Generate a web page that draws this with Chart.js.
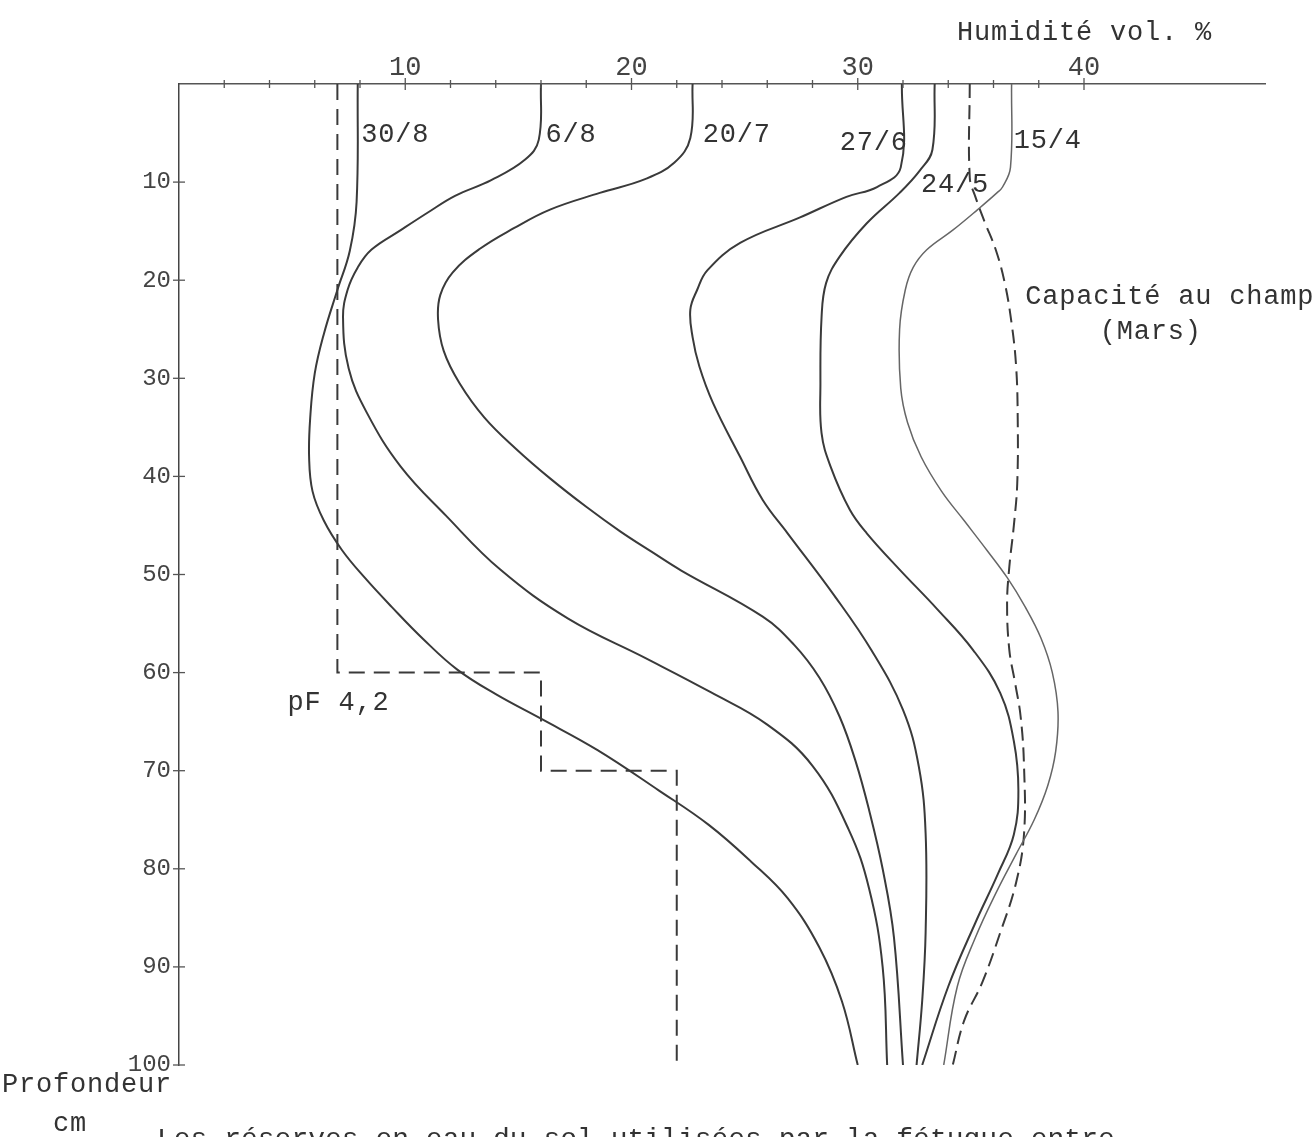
<!DOCTYPE html>
<html>
<head>
<meta charset="utf-8">
<script src="https://cdn.jsdelivr.net/npm/chart.js@4.4.1/dist/chart.umd.min.js"></script>
<style>
  html, body { margin: 0; padding: 0; background: #fff; }
</style>
</head>
<body>
<canvas id="profil" width="1313" height="1137"></canvas>
<script>
// humidité vol. % (x) en fonction de la profondeur en cm (y)
const depth_30_8 = [0, 12, 17, 21, 25.5, 29.5, 34, 38, 41.5, 44.5, 47.5, 50.3, 53.3, 56.6, 59.7, 62.2, 64.7, 67.9, 72, 75.5, 79.3, 83, 88, 93.5, 100];
const hum_30_8 = [7.9, 7.85, 7.55, 7.0, 6.4, 6.0, 5.8, 5.75, 5.9, 6.4, 7.2, 8.2, 9.4, 10.8, 12.3, 14.0, 16.0, 18.5, 21.2, 23.4, 25.3, 26.9, 28.3, 29.3, 30.0];

const depth_6_8 = [0, 5.7, 7.7, 9.8, 11.4, 13.1, 14.9, 16.9, 18.7, 21, 23.8, 29, 33.5, 39, 44, 49.5, 54.5, 58.5, 62, 65.3, 69.5, 76, 82, 90, 100];
const hum_6_8 = [16.0, 15.9, 15.3, 13.8, 12.2, 11.0, 9.8, 8.5, 7.9, 7.45, 7.25, 7.5, 8.3, 9.8, 11.8, 14.2, 17.2, 20.6, 23.5, 26.0, 28.0, 29.6, 30.5, 31.1, 31.3];

const depth_20_7 = [0, 5.5, 8, 9.7, 11.1, 12.8, 14.7, 16.8, 19.2, 21.5, 24, 27.2, 30.5, 34, 37.2, 40.2, 43.1, 45.6, 47.7, 49.6, 54.3, 57.2, 60.5, 64.5, 69, 74, 80, 87, 100];
const hum_20_7 = [22.7, 22.6, 21.9, 20.6, 18.6, 16.4, 14.8, 13.3, 12.1, 11.55, 11.45, 11.7, 12.4, 13.5, 14.9, 16.4, 18.0, 19.5, 20.9, 22.2, 25.8, 27.2, 28.3, 29.2, 29.9, 30.5, 31.1, 31.6, 32.0];

const depth_27_6 = [0, 8.5, 10.5, 11.5, 13.6, 16.2, 19, 21, 23, 25.8, 28.8, 32.5, 38, 42.4, 45.8, 52.1, 57.7, 63.8, 69.6, 76.4, 86.5, 93.4, 100];
const hum_27_6 = [31.95, 31.9, 30.85, 29.5, 27.45, 24.8, 23.35, 22.9, 22.6, 22.7, 23.0, 23.6, 24.8, 25.8, 26.9, 28.95, 30.6, 32.0, 32.7, 33.0, 33.0, 32.85, 32.6];

const depth_24_5 = [0, 6.7, 8.8, 11.1, 14.2, 17.6, 20.3, 23.8, 30.5, 35.6, 39, 43.4, 45.8, 49.5, 53.5, 57.7, 62.1, 67, 72, 76.5, 80.5, 85.5, 92, 100];
const hum_24_5 = [33.4, 33.3, 32.75, 31.85, 30.4, 29.2, 28.6, 28.4, 28.35, 28.4, 28.8, 29.65, 30.4, 31.85, 33.5, 35.1, 36.3, 36.9, 37.1, 36.9, 36.2, 35.2, 34.0, 32.85];

const depth_15_4 = [0, 8.5, 10.5, 11.1, 12.8, 14.9, 16.9, 18.7, 21, 25, 31, 34.5, 38, 41.5, 44.5, 47.5, 50.3, 53.3, 56.5, 60, 64, 68, 71.5, 75, 78.5, 82.5, 87, 92, 100];
const hum_15_4 = [36.8, 36.75, 36.4, 36.15, 35.3, 34.2, 33.05, 32.45, 32.1, 31.85, 31.9, 32.2, 32.8, 33.7, 34.7, 35.7, 36.6, 37.4, 38.1, 38.6, 38.85, 38.75, 38.4, 37.8, 37.0, 36.1, 35.2, 34.4, 33.8];

// capacité au champ (Mars)
const depth_cc = [0, 9.5, 11.5, 14, 16.9, 20.3, 24.4, 28.8, 34, 40.7, 45, 49.2, 53, 57.7, 61, 64.5, 69.6, 76.4, 81.4, 86.5, 91.6, 95.5, 100];
const hum_cc = [34.95, 34.95, 35.2, 35.6, 36.1, 36.5, 36.8, 37.0, 37.07, 37.05, 36.9, 36.7, 36.6, 36.7, 36.95, 37.2, 37.35, 37.35, 37.0, 36.3, 35.5, 34.7, 34.2];

// pF 4,2
const depth_pf = [0, 60, 60, 70, 70, 100];
const hum_pf = [7, 7, 16, 16, 22, 22];

const xTicksShown = [10, 20, 30, 40];

const ink = "#3a3a3a";
const mono = "'Liberation Mono', 'DejaVu Sans Mono', monospace";

function pts(h, d) {
    return h.map((v, i) => ({ x: v, y: d[i] }));
}

function curve(h, d, extra) {
    return Object.assign({
        data: pts(h, d),
        showLine: true,
        pointRadius: 0,
        borderColor: ink,
        borderWidth: 2,
        tension: 0.4,
        fill: false,
    }, extra || {});
}

// textes posés en coordonnées de données
const notes = [
    { t: "30/8", x: 8.05, y: 5.9 },
    { t: "6/8", x: 16.2, y: 5.9 },
    { t: "20/7", x: 23.15, y: 5.9 },
    { t: "27/6", x: 29.2, y: 6.7 },
    { t: "15/4", x: 36.9, y: 6.5 },
    { t: "24/5", x: 32.8, y: 11.0 },
    { t: "pF 4,2", x: 4.8, y: 63.8 },
    { t: "Capacité au champ", x: 37.4, y: 22.4 },
    { t: "(Mars)", x: 40.7, y: 26.0 },
];

const textPlugin = {
    id: "texts",
    afterDraw(chart) {
        const c = chart.ctx;
        const xs = chart.scales.x, ys = chart.scales.y;
        c.save();

        // marques en croix sur les deux axes
        c.strokeStyle = "#555";
        c.lineWidth = 1.3;
        ys.ticks.forEach(tk => {
            if (tk.value === 0) return;
            const py = ys.getPixelForValue(tk.value);
            c.beginPath();
            c.moveTo(ys.right - 6, py);
            c.lineTo(ys.right + 6, py);
            c.stroke();
        });
        xs.ticks.forEach(tk => {
            if (tk.value === 0 || tk.value > 40) return;
            const px = xs.getPixelForValue(tk.value);
            const big = xTicksShown.includes(tk.value) ? 6 : 4;
            c.beginPath();
            c.moveTo(px, xs.bottom - big);
            c.lineTo(px, xs.bottom + big);
            c.stroke();
        });

        c.fillStyle = "#333";
        c.textBaseline = "alphabetic";
        c.textAlign = "left";
        c.font = "27px " + mono;
        c.letterSpacing = "0.8px";
        notes.forEach(n => {
            c.fillText(n.t, xs.getPixelForValue(n.x), ys.getPixelForValue(n.y));
        });

        c.fillText("Humidité vol. %", 957, 40);
        c.fillText("Profondeur", 2, 1092);
        c.fillText("cm", 53, 1131);
        c.font = "28px " + mono;
        c.letterSpacing = "0px";
        c.fillText("Les réserves en eau du sol utilisées par la fétuque entre", 157, 1147);
        c.restore();
    }
};

new Chart(document.getElementById("profil"), {
    type: "scatter",
    data: {
        datasets: [
            curve(hum_30_8, depth_30_8),
            curve(hum_6_8, depth_6_8),
            curve(hum_20_7, depth_20_7),
            curve(hum_27_6, depth_27_6),
            curve(hum_24_5, depth_24_5),
            curve(hum_15_4, depth_15_4, { borderColor: "#666", borderWidth: 1.5 }),
            curve(hum_cc, depth_cc, { borderDash: [14, 7], borderWidth: 2 }),
            curve(hum_pf, depth_pf, { borderDash: [16, 9], borderWidth: 2, tension: 0 }),
        ],
    },
    options: {
        responsive: false,
        animation: false,
        layout: { padding: { left: 0, top: 0, right: 48, bottom: 72 } },
        plugins: {
            legend: { display: false },
            tooltip: { enabled: false },
        },
        scales: {
            x: {
                type: "linear",
                position: "top",
                min: 0,
                max: 48,
                afterFit: s => { s.height = 84; },
                ticks: {
                    stepSize: 2,
                    autoSkip: false,
                    maxRotation: 0,
                    padding: 0,
                    color: "#444",
                    font: { family: mono, size: 27 },
                    callback: v => xTicksShown.includes(v) ? String(v) : "",
                },
                grid: { drawOnChartArea: false, drawTicks: false },
                border: { color: "#555", width: 1.5, dash: [10, 3, 2, 3] },
            },
            y: {
                type: "linear",
                reverse: true,
                min: 0,
                max: 100,
                afterFit: s => { s.width = 179; },
                ticks: {
                    stepSize: 10,
                    padding: 8,
                    color: "#444",
                    font: { family: mono, size: 24 },
                    callback: v => v === 0 ? "" : String(v),
                },
                grid: { drawOnChartArea: false, drawTicks: false },
                border: { color: "#444", width: 1.5 },
            },
        },
    },
    plugins: [textPlugin],
});
</script>
</body>
</html>
